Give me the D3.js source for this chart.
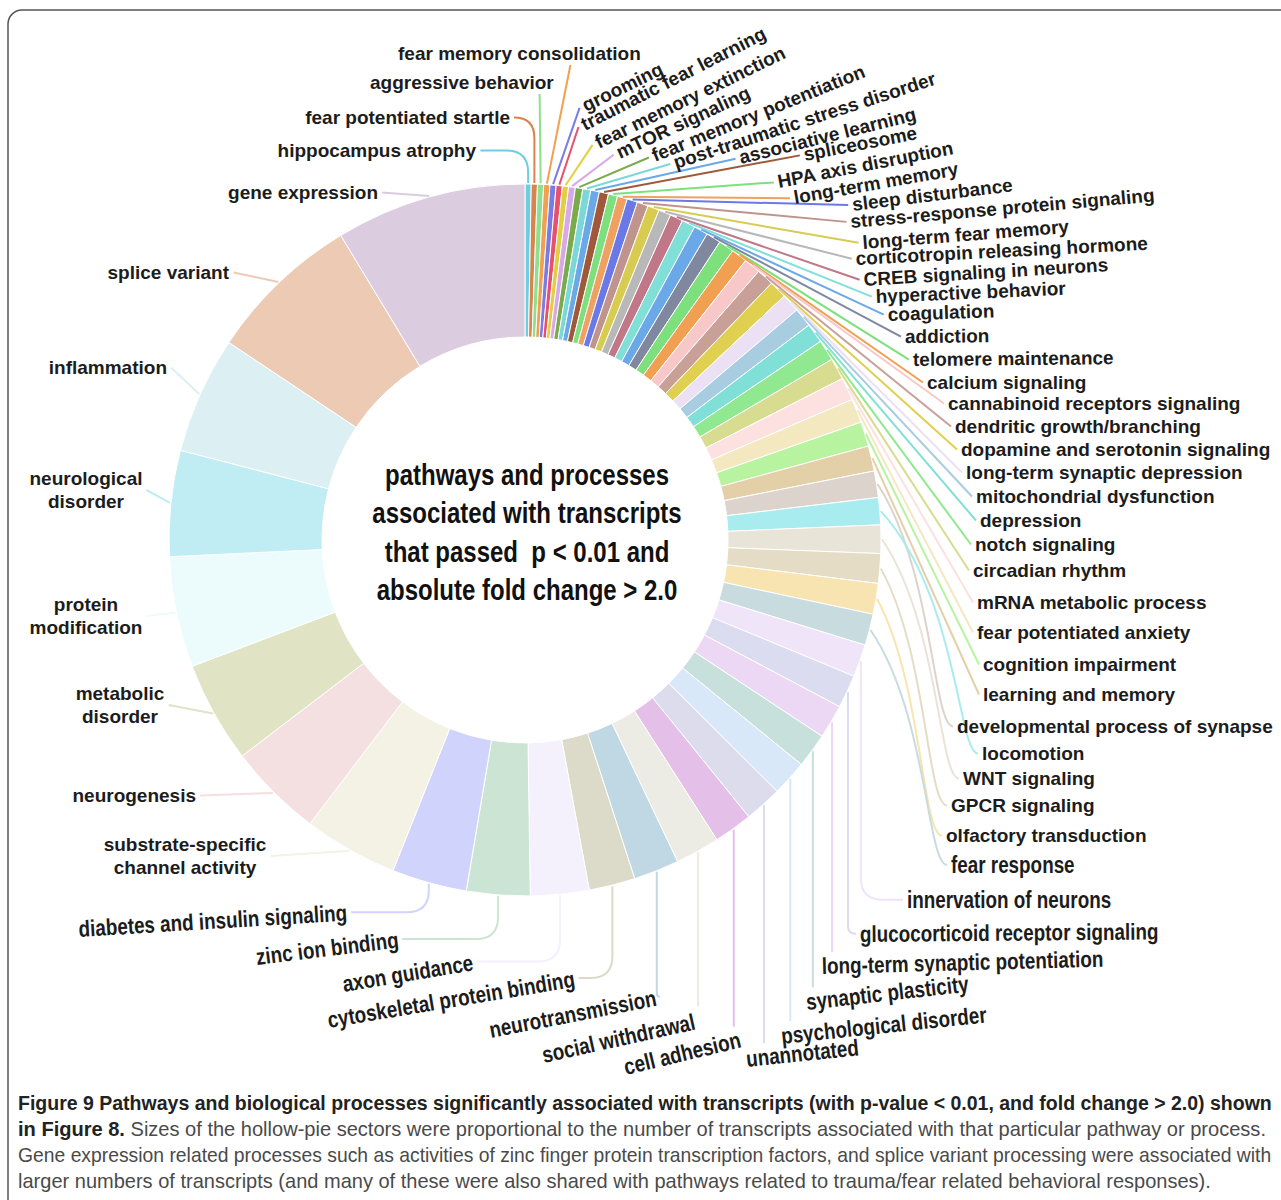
<!DOCTYPE html>
<html>
<head>
<meta charset="utf-8">
<script src="https://cdn.jsdelivr.net/npm/d3@7"></script>
<style>
  body { margin: 0; background: #fff; }
</style>
</head>
<body>
<div class="canva"></div>
<script>
// slices run clockwise from 12 o'clock, smallest first
const pathways = [
  'hippocampus atrophy', 'fear potentiated startle', 'aggressive behavior', 'fear memory consolidation',
  'grooming', 'traumatic fear learning', 'fear memory extinction', 'mTOR signaling',
  'fear memory potentiation', 'post-traumatic stress disorder', 'associative learning', 'spliceosome',
  'HPA axis disruption', 'long-term memory', 'sleep disturbance', 'stress-response protein signaling',
  'long-term fear memory', 'corticotropin releasing hormone', 'CREB signaling in neurons', 'hyperactive behavior',
  'coagulation', 'addiction', 'telomere maintenance', 'calcium signaling',
  'cannabinoid receptors signaling', 'dendritic growth/branching', 'dopamine and serotonin signaling', 'long-term synaptic depression',
  'mitochondrial dysfunction', 'depression', 'notch signaling', 'circadian rhythm',
  'mRNA metabolic process', 'fear potentiated anxiety', 'cognition impairment', 'learning and memory',
  'developmental process of synapse', 'locomotion', 'WNT signaling', 'GPCR signaling',
  'olfactory transduction', 'fear response', 'innervation of neurons', 'glucocorticoid receptor signaling',
  'long-term synaptic potentiation', 'synaptic plasticity', 'psychological disorder', 'unannotated',
  'cell adhesion', 'social withdrawal', 'neurotransmission', 'cytoskeletal protein binding',
  'axon guidance', 'zinc ion binding', 'diabetes and insulin signaling', 'substrate-specific channel activity',
  'neurogenesis', 'metabolic disorder', 'protein modification', 'neurological disorder',
  'inflammation', 'splice variant', 'gene expression'
];

// relative number of transcripts
const transcripts = [
  1.0, 1.0, 1.0, 1.0, 1.0, 1.0, 1.0, 1.1,
  1.2, 1.3, 1.4, 1.5, 1.5, 1.6, 1.7, 1.8,
  1.9, 2.0, 2.1, 2.2, 2.3, 2.4, 2.5, 2.6,
  2.7, 2.8, 2.9, 3.0, 3.1, 3.2, 3.4, 3.5,
  3.7, 3.9, 4.0, 4.1, 4.3, 4.4, 4.6, 4.8,
  5.0, 5.1, 5.3, 5.4, 5.5, 5.6, 5.8, 6.1,
  6.3, 7.2, 7.4, 7.5, 9.5, 10.3, 12.2, 15.3,
  15.4, 16.5, 18.0, 17.2, 19.0, 25.0, 31.0
];

const sliceColors = [
  '#6fcde0', '#d9844c', '#8ee08e', '#f0a050', '#7b7be8', '#e8506e', '#e0d040', '#d8a8e8',
  '#7aab4a', '#7ad8d8', '#6aa8e8', '#a0583a', '#7de07d', '#f0a060', '#6a78e8', '#c0948c',
  '#d8cc50', '#b8b8b8', '#c07888', '#80e0d8', '#6aa8e8', '#8088a0', '#7de07d', '#f0a050',
  '#f8c8c8', '#c8a098', '#e0d050', '#ece0f4', '#a8cce0', '#80e0d8', '#90e890', '#d8dc90',
  '#fde0e0', '#f4e8c0', '#b8f4a0', '#e4d0a8', '#dcd4cc', '#a8ecf0', '#e8e4d8', '#e4dcc4',
  '#f8e4b0', '#c8dce0', '#f0e4f8', '#dcdcf0', '#ecd8f4', '#c8e0dc', '#d8e8f8', '#dcdcec',
  '#e4c0e8', '#ecece4', '#c0d8e4', '#dcdac8', '#f4f0fc', '#cce4d4', '#d0d4fc', '#f4f2e4',
  '#f4e0e0', '#e0e4c4', '#ecfcfc', '#c0ecf4', '#dcf0f4', '#eccab4', '#dccce0'
];

// two-line labels
const wrapped = ['neurological disorder', 'protein modification', 'metabolic disorder', 'substrate-specific channel activity'];

// label layout: x, baseline y, rotation, anchor, where the leader meets the text, leader shape
const labelSpots = [
  [476, 157, 0, 'end', 'e', 'e'], [510, 124, 0, 'end', 'e', 'e'], [370, 89, 0, 'start', 0.92, 's'], [398, 60, 0, 'start', 0.71, 's'],
  [586, 112, -26, 'start', 's', 's'], [585, 131, -27, 'start', 's', 's'], [599, 149, -26, 'start', 's', 's'], [620, 159, -25, 'start', 's', 's'],
  [655, 162, -22, 'start', 's', 's'], [676, 169, -18, 'start', 's', 's'], [741, 164, -14, 'start', 's', 's'], [805, 161, -11, 'start', 's', 's'],
  [779, 188, -11, 'start', 's', 's'], [795, 204, -10, 'start', 's', 's'], [853, 211, -7, 'start', 's', 's'], [851, 228, -5, 'start', 's', 's'],
  [863, 249, -4.5, 'start', 's', 's'], [856, 265, -3, 'start', 's', 's'], [864, 286, -3.5, 'start', 's', 's'], [876, 303, -2.5, 'start', 's', 's'],
  [888, 321, -2, 'start', 's', 's'], [905, 343, -0.5, 'start', 's', 's'], [913, 366, -0.5, 'start', 's', 's'], [927, 389, 0, 'start', 's', 's'],
  [948, 410, 0, 'start', 's', 's'], [955, 433, 0, 'start', 's', 's'], [961, 456, 0, 'start', 's', 's'], [966, 479, 0, 'start', 's', 's'],
  [976, 503, 0, 'start', 's', 's'], [980, 527, 0, 'start', 's', 's'], [975, 551, 0, 'start', 's', 's'], [973, 577, 0, 'start', 's', 's'],
  [977, 609, 0, 'start', 's', 's'], [977, 639, 0, 'start', 's', 's'], [983, 671, 0, 'start', 's', 's'], [983, 701, 0, 'start', 's', 's'],
  [957, 733, 0, 'start', 's', 'c'], [982, 760, 0, 'start', 's', 'c'], [963, 785, 0, 'start', 's', 'c'], [951, 812, 0, 'start', 's', 'c'],
  [946, 842, 0, 'start', 's', 'c'], [951, 873, 0, 'start', 's', 'c'], [907, 908, 0, 'start', 's', 'e'], [860, 942, -0.5, 'start', 's', 'e'],
  [822, 974, -1.5, 'start', 't', 's'], [807, 1010, -6.5, 'start', 't', 's'], [782, 1044, -6, 'start', 't', 's'], [747, 1067, -6, 'start', 't', 's'],
  [626, 1075, -13.5, 'start', 't', 's'], [544, 1063, -12.5, 'start', 't', 's'], [491, 1038, -11, 'start', 'e', 'e'], [329, 1028, -9.5, 'start', 'e', 'e'],
  [344, 992, -9.5, 'start', 'e', 'e'], [257, 965, -7, 'start', 'e', 'e'], [79, 937, -3.5, 'start', 'e', 'e'], [185, 851, 0, 'middle', 'e', 's'],
  [196, 802, 0, 'end', 'e', 's'], [120, 700, 0, 'middle', 'e', 's'], [86, 611, 0, 'middle', 'e', 's'], [86, 485, 0, 'middle', 'e', 's'],
  [167, 374, 0, 'end', 'e', 's'], [229, 279, 0, 'end', 'e', 's'], [378, 199, 0, 'end', 'e', 's']
];

const centerLines = ['pathways and processes', 'associated with transcripts', 'that passed  p < 0.01 and', 'absolute fold change > 2.0'];

const captionBold = [
  'Figure 9 Pathways and biological processes significantly associated with transcripts (with p-value < 0.01, and fold change > 2.0) shown',
  'in Figure 8.', '', ''
];
const captionRest = [
  '',
  ' Sizes of the hollow-pie sectors were proportional to the number of transcripts associated with that particular pathway or process.',
  'Gene expression related processes such as activities of zinc finger protein transcription factors, and splice variant processing were associated with',
  'larger numbers of transcripts (and many of these were also shared with pathways related to trauma/fear related behavioral responses).'
];

const width = 1281, height = 1200;
const cx = 525, cy = 540, rOuter = 356, rInner = 203;
const font = 'Liberation Sans, Arial, sans-serif';
const squeeze = 0.82;   // horizontal squeeze for the condensed-looking text

const svg = d3.select('.canva').append('svg')
    .attr('width', width)
    .attr('height', height)

// frame
svg.append('rect')
    .attr('x', 8).attr('y', 10)
    .attr('width', 1300).attr('height', 1210)
    .attr('rx', 14)
    .attr('fill', 'none')
    .attr('stroke', '#555')
    .attr('stroke-width', 1.5)

const pie = d3.pie().sort(null).value(d => d);
const arcs = pie(transcripts);
const arc = d3.arc().innerRadius(rInner).outerRadius(rOuter);
const rim = d3.arc().innerRadius(rOuter + 1).outerRadius(rOuter + 1);

const chart = svg.append('g').attr('transform', `translate(${cx}, ${cy})`)

chart.selectAll('path')
    .data(arcs)
    .enter().append('path')
    .attr('d', arc)
    .attr('fill', (d, i) => sliceColors[i])
    .attr('stroke', '#fff')
    .attr('stroke-width', 1)

const lineLayer = svg.append('g').attr('fill', 'none').attr('stroke-width', 2);
const labelLayer = svg.append('g').attr('fill', '#1c1c1c').attr('font-weight', 'bold').attr('font-family', font);

arcs.forEach((d, i) => {
  const [x, y, rot, anchor, attach, route] = labelSpots[i];
  const name = pathways[i];
  const narrow = i >= 41 && i <= 54;
  const sx = narrow ? squeeze : 1;

  const g = labelLayer.append('g')
      .attr('transform', `translate(${x}, ${y}) rotate(${rot}) scale(${sx}, 1)`)
      .attr('font-size', narrow ? 23 : 19)
      .attr('text-anchor', anchor);

  const sp = name.indexOf(' ');
  const parts = wrapped.includes(name) ? [name.slice(0, sp), name.slice(sp + 1)] : [name];
  parts.forEach((p, k) => g.append('text').attr('y', k * 23).text(p));

  const bb = g.node().getBBox();
  const a = rot * Math.PI / 180, cos = Math.cos(a), sin = Math.sin(a);
  const toPage = (lx, ly) => [x + lx * sx * cos - ly * sin, y + lx * sx * sin + ly * cos];

  const c = rim.centroid(d);
  const p0 = [cx + c[0], cy + c[1]];
  let p3;
  if (attach === 's') p3 = toPage(bb.x - 4 / sx, bb.y + bb.height / 2);
  else if (attach === 'e') p3 = toPage(bb.x + bb.width + 4 / sx, bb.y + bb.height / 2);
  else if (attach === 't') {
    const ly = bb.y - 1;
    p3 = toPage((p0[0] - x + ly * sin) / cos / sx, ly);
  } else p3 = toPage(bb.x + attach * bb.width, bb.y + bb.height + 1);

  const path = d3.path();
  path.moveTo(p0[0], p0[1]);
  if (route === 's') {
    path.lineTo(p3[0], p3[1]);
  } else if (route === 'e') {
    const dx = p3[0] - p0[0], dy = p3[1] - p0[1];
    const r = Math.min(22, Math.abs(dx), Math.abs(dy));
    path.lineTo(p0[0], p3[1] - Math.sign(dy) * r);
    path.quadraticCurveTo(p0[0], p3[1], p0[0] + Math.sign(dx) * r, p3[1]);
    path.lineTo(p3[0], p3[1]);
  } else {
    const dy = p3[1] - p0[1];
    path.bezierCurveTo(p3[0] - 20, p0[1] + 0.35 * dy, p3[0] - 20, p3[1], p3[0], p3[1]);
  }

  lineLayer.append('path')
      .attr('d', path.toString())
      .attr('stroke', sliceColors[i])
});

// centre title
const title = svg.append('g')
    .attr('transform', `translate(527, 0) scale(0.8, 1)`)
    .attr('font-family', font)
    .attr('font-weight', 'bold')
    .attr('font-size', 30)
    .attr('text-anchor', 'middle')
    .attr('fill', '#111');

title.selectAll('text')
    .data(centerLines)
    .enter().append('text')
    .attr('x', 0)
    .attr('y', (d, i) => 485 + i * 38.5)
    .style('white-space', 'pre')
    .text(d => d)

// caption: each line squeezed to the width it has in the figure
const captionWidths = [1254, 1249, 1254, 1194];
captionBold.forEach((b, i) => {
  const g = svg.append('g');
  const t = g.append('text')
      .attr('font-family', font)
      .attr('font-size', 20)
      .style('white-space', 'pre');
  if (b) t.append('tspan').attr('font-weight', 'bold').attr('fill', '#222').text(b);
  if (captionRest[i]) t.append('tspan').attr('fill', '#4a4a4a').text(captionRest[i]);
  const w = t.node().getComputedTextLength();
  g.attr('transform', `translate(18, ${1110 + i * 26}) scale(${captionWidths[i] / w}, 1)`);
});
</script>
</body>
</html>
